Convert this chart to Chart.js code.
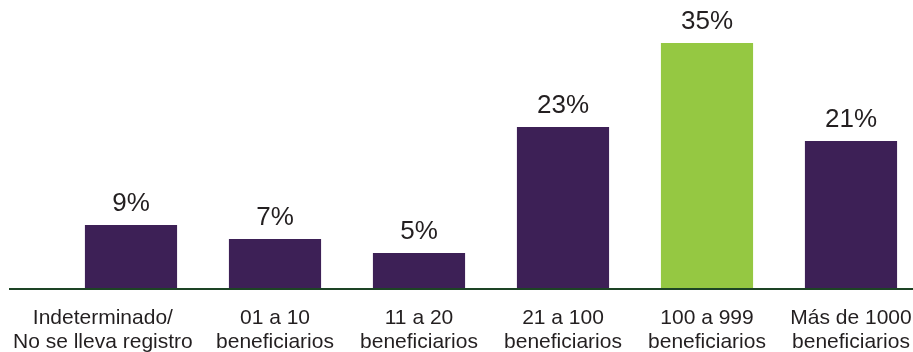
<!DOCTYPE html>
<html>
<head>
<meta charset="utf-8">
<script src="https://cdn.jsdelivr.net/npm/chart.js@4/dist/chart.umd.min.js"></script>
<style>
  html, body { margin: 0; padding: 0; background: #ffffff; }
  #wrap { width: 913px; height: 352px; overflow: hidden; position: relative; }
  canvas { display: block; }
</style>
</head>
<body>
<div id="wrap"><canvas id="chart" width="930" height="352"></canvas></div>
<script>
// Category labels (one entry per line of text)
const categories = [
  ['Indeterminado/', 'No se lleva registro'],
  ['01 a 10', 'beneficiarios'],
  ['11 a 20', 'beneficiarios'],
  ['21 a 100', 'beneficiarios'],
  ['100 a 999', 'beneficiarios'],
  ['Más de 1000', 'beneficiarios']
];
// Share of organizations per beneficiary range (%)
const values = [9, 7, 5, 23, 35, 21];

const PURPLE = '#3d2056';
const GREEN = '#95c842';
const TEXT = '#231f20';
const AXIS = '#1d4425';
const FONT = '"Liberation Sans", Arial, Helvetica, sans-serif';
const MARGIN = 13;

const topIndex = values.indexOf(Math.max(...values));

// Value labels above each bar, category labels under the axis, and the baseline
const decorations = {
  id: 'decorations',
  afterDatasetsDraw(chart) {
    const ctx = chart.ctx;
    const meta = chart.getDatasetMeta(0);
    const x = chart.scales.x;
    const y = chart.scales.y;
    const zero = y.getPixelForValue(0);

    ctx.save();
    // baseline
    ctx.strokeStyle = AXIS;
    ctx.lineWidth = 2;
    ctx.beginPath();
    ctx.moveTo(9, zero + 1);
    ctx.lineTo(chart.width, zero + 1);
    ctx.stroke();

    // value labels
    ctx.fillStyle = TEXT;
    ctx.textAlign = 'center';
    ctx.textBaseline = 'alphabetic';
    ctx.font = '26px ' + FONT;
    meta.data.forEach((bar, i) => {
      ctx.fillText(values[i] + '%', bar.x, bar.y - 14);
    });

    // category labels; a block wider than the space left of the plot
    // starts at the page margin instead
    ctx.font = '21px ' + FONT;
    meta.data.forEach((bar, i) => {
      const lines = categories[i];
      const w = Math.max(...lines.map(t => ctx.measureText(t).width));
      let cx = bar.x;
      if (cx - w / 2 < x.left) cx = MARGIN + w / 2;
      lines.forEach((t, k) => {
        ctx.fillText(t, cx, zero + 36 + k * 24);
      });
    });
    ctx.restore();
  }
};

new Chart(document.getElementById('chart'), {
  type: 'bar',
  data: {
    labels: categories,
    datasets: [{
      data: values,
      backgroundColor: c => c.dataIndex === topIndex ? GREEN : PURPLE,
      borderWidth: 0,
      categoryPercentage: 1,
      barPercentage: 0.64
    }]
  },
  options: {
    responsive: false,
    animation: false,
    devicePixelRatio: 1,
    layout: { padding: { left: 59, right: 7, top: 8, bottom: 64 } },
    plugins: { legend: { display: false }, tooltip: { enabled: false } },
    scales: {
      x: { display: false },
      y: { display: false, min: 0, max: 40 }
    }
  },
  plugins: [decorations]
});
</script>
</body>
</html>
